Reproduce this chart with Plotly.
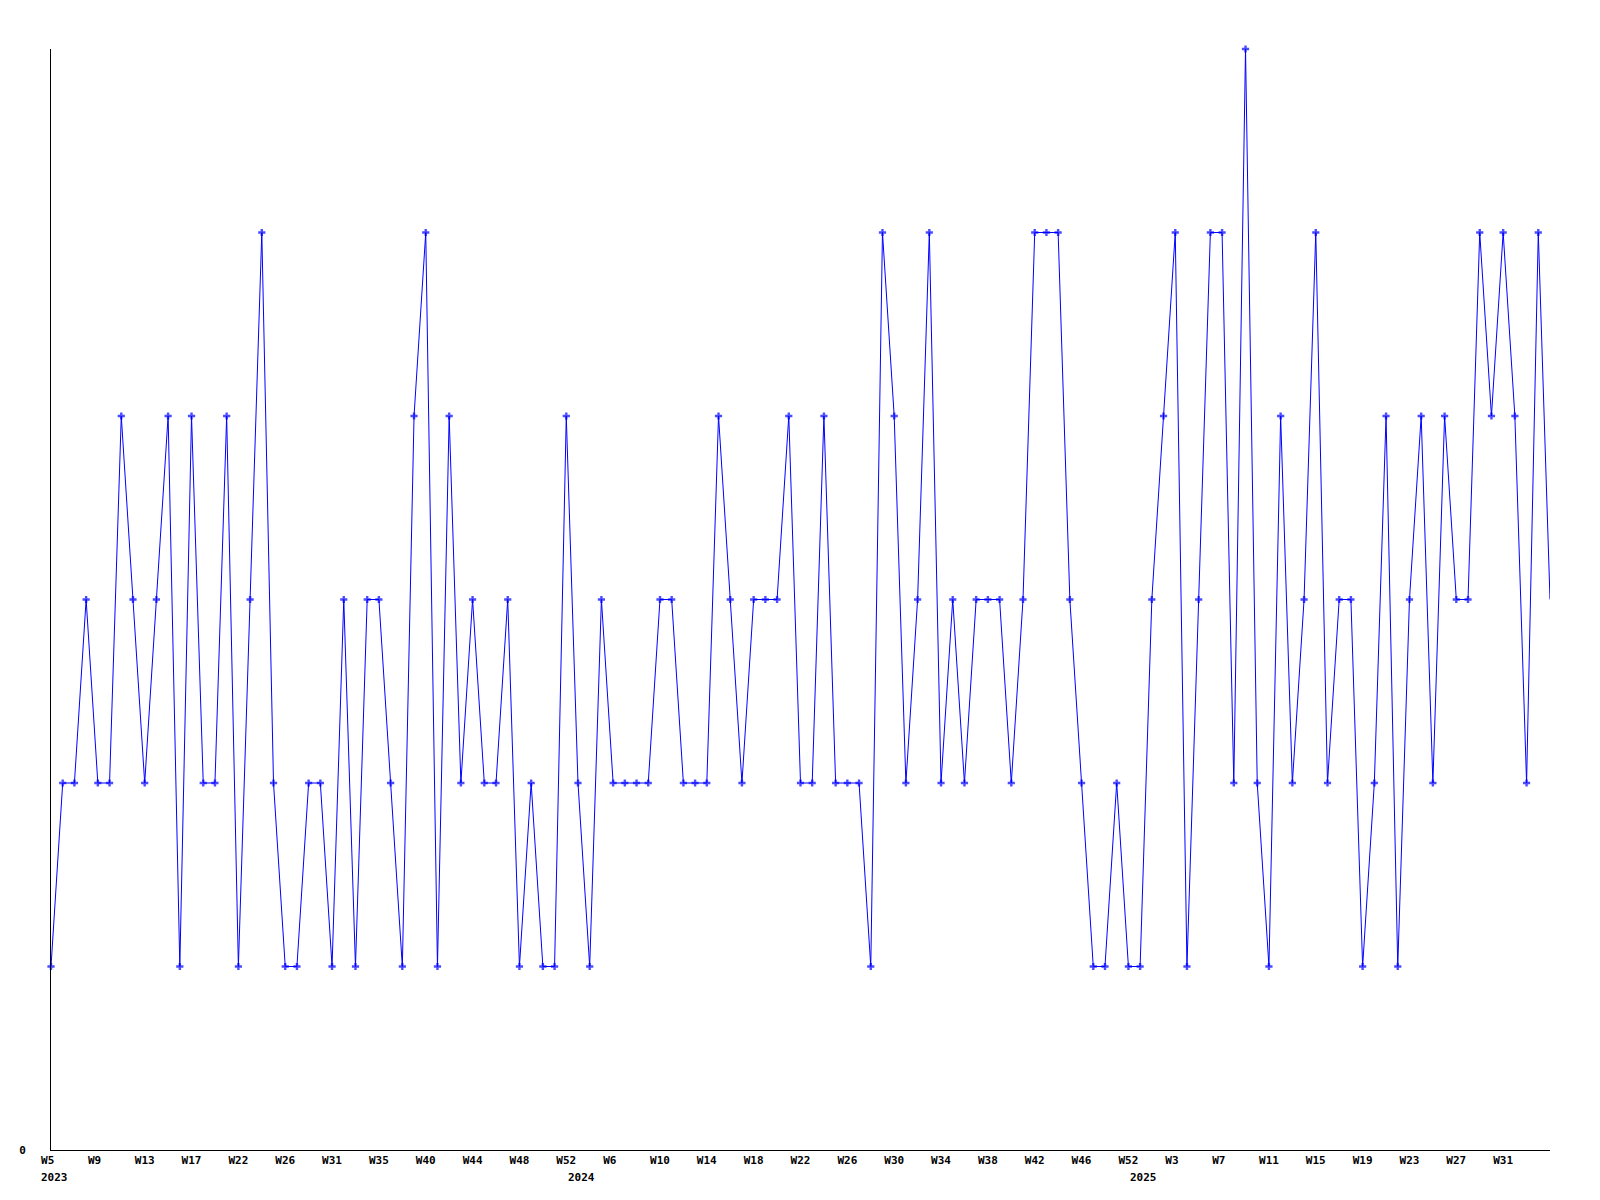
import plotly.graph_objects as go

weeks = [
    "2023-W05", "2023-W06", "2023-W07", "2023-W08", "2023-W09", "2023-W10", "2023-W11", "2023-W12",
    "2023-W13", "2023-W14", "2023-W15", "2023-W16", "2023-W17", "2023-W18", "2023-W19", "2023-W21",
    "2023-W22", "2023-W23", "2023-W24", "2023-W25", "2023-W26", "2023-W27", "2023-W28", "2023-W30",
    "2023-W31", "2023-W32", "2023-W33", "2023-W34", "2023-W35", "2023-W36", "2023-W37", "2023-W39",
    "2023-W40", "2023-W41", "2023-W42", "2023-W43", "2023-W44", "2023-W45", "2023-W46", "2023-W47",
    "2023-W48", "2023-W49", "2023-W50", "2023-W51", "2023-W52",
    "2024-W01", "2024-W02", "2024-W04", "2024-W06", "2024-W07", "2024-W08", "2024-W09", "2024-W10",
    "2024-W11", "2024-W12", "2024-W13", "2024-W14", "2024-W15", "2024-W16", "2024-W17", "2024-W18",
    "2024-W19", "2024-W20", "2024-W21", "2024-W22", "2024-W23", "2024-W24", "2024-W25", "2024-W26",
    "2024-W27", "2024-W28", "2024-W29", "2024-W30", "2024-W31", "2024-W32", "2024-W33", "2024-W34",
    "2024-W35", "2024-W36", "2024-W37", "2024-W38", "2024-W39", "2024-W40", "2024-W41", "2024-W42",
    "2024-W43", "2024-W44", "2024-W45", "2024-W46", "2024-W47", "2024-W49", "2024-W50", "2024-W52",
    "2025-W01", "2025-W02", "2025-W02b", "2025-W03", "2025-W04", "2025-W05", "2025-W06", "2025-W07",
    "2025-W08", "2025-W09", "2025-W10", "2025-W11", "2025-W12", "2025-W13", "2025-W14", "2025-W15",
    "2025-W16", "2025-W17", "2025-W18", "2025-W19", "2025-W20", "2025-W21", "2025-W22", "2025-W23",
    "2025-W24", "2025-W25", "2025-W26", "2025-W27", "2025-W28", "2025-W29", "2025-W30", "2025-W31",
    "2025-W32", "2025-W33", "2025-W34", "2025-W35",
]

values = [
    1, 2, 2, 3, 2, 2, 4, 3, 2, 3,
    4, 1, 4, 2, 2, 4, 1, 3, 5, 2,
    1, 1, 2, 2, 1, 3, 1, 3, 3, 2,
    1, 4, 5, 1, 4, 2, 3, 2, 2, 3,
    1, 2, 1, 1, 4, 2, 1, 3, 2, 2,
    2, 2, 3, 3, 2, 2, 2, 4, 3, 2,
    3, 3, 3, 4, 2, 2, 4, 2, 2, 2,
    1, 5, 4, 2, 3, 5, 2, 3, 2, 3,
    3, 3, 2, 3, 5, 5, 5, 3, 2, 1,
    1, 2, 1, 1, 3, 4, 5, 1, 3, 5,
    5, 2, 6, 2, 1, 4, 2, 3, 5, 2,
    3, 3, 1, 2, 4, 1, 3, 4, 2, 4,
    3, 3, 5, 4, 5, 4, 2, 5, 3,
]

tick_weeks = [
    "2023-W05", "2023-W09", "2023-W13", "2023-W17", "2023-W22", "2023-W26", "2023-W31", "2023-W35",
    "2023-W40", "2023-W44", "2023-W48", "2023-W52", "2024-W06", "2024-W10", "2024-W14", "2024-W18",
    "2024-W22", "2024-W26", "2024-W30", "2024-W34", "2024-W38", "2024-W42", "2024-W46", "2024-W52",
    "2025-W03", "2025-W07", "2025-W11", "2025-W15", "2025-W19", "2025-W23", "2025-W27", "2025-W31",
]
tick_labels = [
    "W5", "W9", "W13", "W17", "W22", "W26", "W31", "W35",
    "W40", "W44", "W48", "W52", "W6", "W10", "W14", "W18",
    "W22", "W26", "W30", "W34", "W38", "W42", "W46", "W52",
    "W3", "W7", "W11", "W15", "W19", "W23", "W27", "W31",
]

year_weeks = ["2023-W05", "2024-W01", "2025-W01"]
year_labels = ["2023", "2024", "2025"]

FONT = dict(family="DejaVu Sans Mono", size=11, color="black", weight="bold")

# labels in the reference are left-aligned; pad short ones so centred text starts at the same offset
padded_ticks = [t + "\u00a0" * (3 - len(t)) for t in tick_labels]

marker_sizes = [6] * (len(values) - 1) + [0]

fig = go.Figure()
fig.add_trace(go.Scatter(
    x=weeks,
    y=values,
    mode="lines+markers",
    line=dict(color="#0000FF", width=1),
    marker=dict(color="#0000FF", size=marker_sizes, symbol="cross", line=dict(width=0)),
    cliponaxis=False,
    showlegend=False,
))

for wk, yr in zip(year_weeks, year_labels):
    fig.add_annotation(
        x=wk, xref="x", y=0, yref="paper",
        text=yr, showarrow=False,
        xanchor="left", yanchor="top",
        xshift=-12, yshift=-19,
        font=FONT,
    )

fig.update_layout(
    width=1600, height=1200,
    margin=dict(l=51, r=50, t=49, b=50, pad=0),
    paper_bgcolor="white",
    plot_bgcolor="white",
    xaxis=dict(
        type="category",
        categoryorder="array",
        categoryarray=weeks,
        range=[0, len(weeks) - 1],
        showline=True, linecolor="black", linewidth=1,
        showgrid=False, zeroline=False,
        tickmode="array", tickvals=tick_weeks, ticktext=padded_ticks,
        ticks="", tickfont=FONT, tickangle=0,
    ),
    yaxis=dict(
        range=[0, 6],
        showline=True, linecolor="black", linewidth=1,
        showgrid=False, zeroline=False,
        tickmode="array", tickvals=[0], ticktext=["0"],
        ticks="outside", ticklen=22, tickcolor="rgba(0,0,0,0)",
        tickfont=FONT,
    ),
)

fig.write_html("out.html", config={"displayModeBar": False},
               post_script="document.body.style.margin='0';")
